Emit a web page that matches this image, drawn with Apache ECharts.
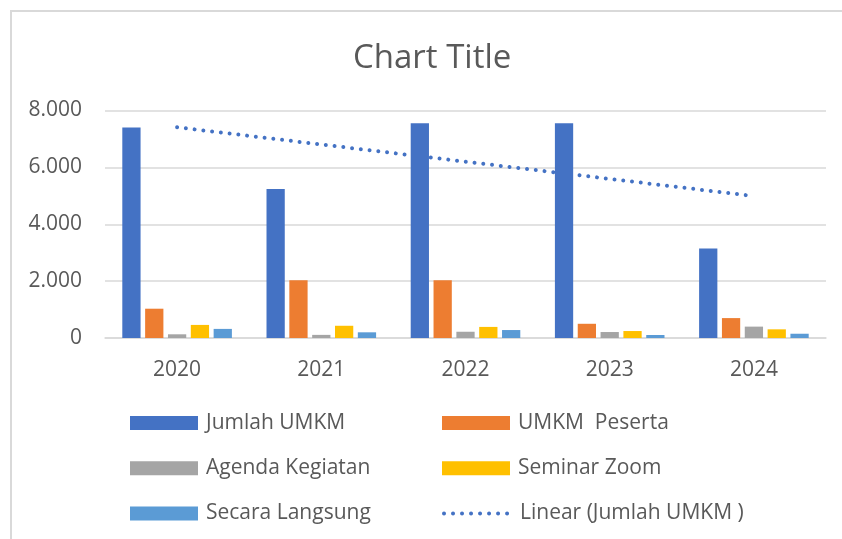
<!DOCTYPE html>
<html>
<head>
<meta charset="utf-8">
<script src="https://cdn.jsdelivr.net/npm/echarts@6/dist/echarts.min.js"></script>
<style>
html,body{margin:0;padding:0;background:#fff;}
#chart{width:842px;height:539px;}
</style>
</head>
<body>
<div id="chart"></div>
<script>
const categories = ['2020', '2021', '2022', '2023', '2024'];
const jumlahUMKM = [7400, 5240, 7550, 7550, 3150];
const umkmPeserta = [1030, 2030, 2030, 500, 700];
const agendaKegiatan = [130, 110, 220, 210, 400];
const seminarZoom = [460, 430, 390, 245, 305];
const secaraLangsung = [320, 200, 280, 105, 150];
// trendline end points (Linear (Jumlah UMKM ))
const trendJumlah = [7410, null, null, null, 4990];
const yTicks = { min: 0, max: 8000, interval: 2000 };

const FONT = '"Open Sans", Lato, sans-serif';
const TXT = '#595959';
const fmt = v => String(v).replace(/\B(?=(\d{3})+(?!\d))/g, '.');

const barNames = ['Jumlah UMKM', 'UMKM  Peserta', 'Agenda Kegiatan', 'Seminar Zoom', 'Secara Langsung'];
const barData = [jumlahUMKM, umkmPeserta, agendaKegiatan, seminarZoom, secaraLangsung];
const barColors = ['#4472c4', '#ed7d31', '#a5a5a5', '#ffc000', '#5b9bd5'];
const trendName = 'Linear (Jumlah UMKM )';

const series = barData.map((d, i) => ({
  name: barNames[i],
  type: 'bar',
  data: d,
  z: 3,
  barGap: '25%',
  barCategoryGap: '24%',
  itemStyle: { color: barColors[i] }
}));
series.push({
  name: trendName,
  type: 'line',
  data: trendJumlah,
  connectNulls: true,
  symbol: 'none',
  z: 1,
  silent: true,
  lineStyle: { color: '#4472c4', width: 4, type: [0.01, 8.8], cap: 'round' },
  itemStyle: { color: '#4472c4' }
});

const legendPos = [
  [130, 0], [442, 0],
  [130, 1], [442, 1],
  [130, 2], [442, 2]
];
const legendNames = [barNames[0], barNames[1], barNames[2], barNames[3], barNames[4], trendName];
const legends = legendNames.map((n, i) => {
  const lg = {
    data: [n],
    left: legendPos[i][0],
    top: 411 + legendPos[i][1] * 45.2,
    padding: 0,
    itemWidth: 68,
    itemHeight: 14,
    selectedMode: false,
    textStyle: { fontFamily: FONT, fontSize: 21, color: TXT, lineHeight: 24, padding: [0, 0, 0, 3] }
  };
  if (i === 5) {
    lg.itemStyle = { opacity: 0 };
    lg.lineStyle = { color: '#4472c4', width: 4, type: [0.01, 9], cap: 'round' };
  } else {
    lg.icon = 'rect';
  }
  return lg;
});

const chart = echarts.init(document.getElementById('chart'), null, { renderer: 'canvas' });
chart.setOption({
  animation: false,
  backgroundColor: '#fff',
  title: {
    text: 'Chart Title',
    left: 353,
    top: 42,
    padding: 0,
    textStyle: { fontFamily: FONT, fontSize: 33, fontWeight: 'normal', color: TXT }
  },
  legend: legends,
  graphic: [{
    type: 'polyline',
    shape: { points: [[11, 545], [11, 11], [850, 11]] },
    style: { stroke: '#d9d9d9', lineWidth: 2, fill: null },
    silent: true
  }],
  grid: { left: 105, right: 16, top: 110.5, bottom: 201, containLabel: false },
  xAxis: {
    type: 'category',
    data: categories,
    axisLine: { show: true, lineStyle: { color: '#d9d9d9', width: 1.5 } },
    axisTick: { show: false },
    axisLabel: { fontFamily: FONT, fontSize: 21, color: TXT, margin: 22 }
  },
  yAxis: {
    type: 'value',
    min: yTicks.min,
    max: yTicks.max,
    interval: yTicks.interval,
    axisLine: { show: false },
    axisTick: { show: false },
    splitLine: { lineStyle: { color: '#d9d9d9', width: 1.5 } },
    axisLabel: { fontFamily: FONT, fontSize: 21, color: TXT, margin: 23, formatter: fmt }
  },
  series: series
});
</script>
</body>
</html>
